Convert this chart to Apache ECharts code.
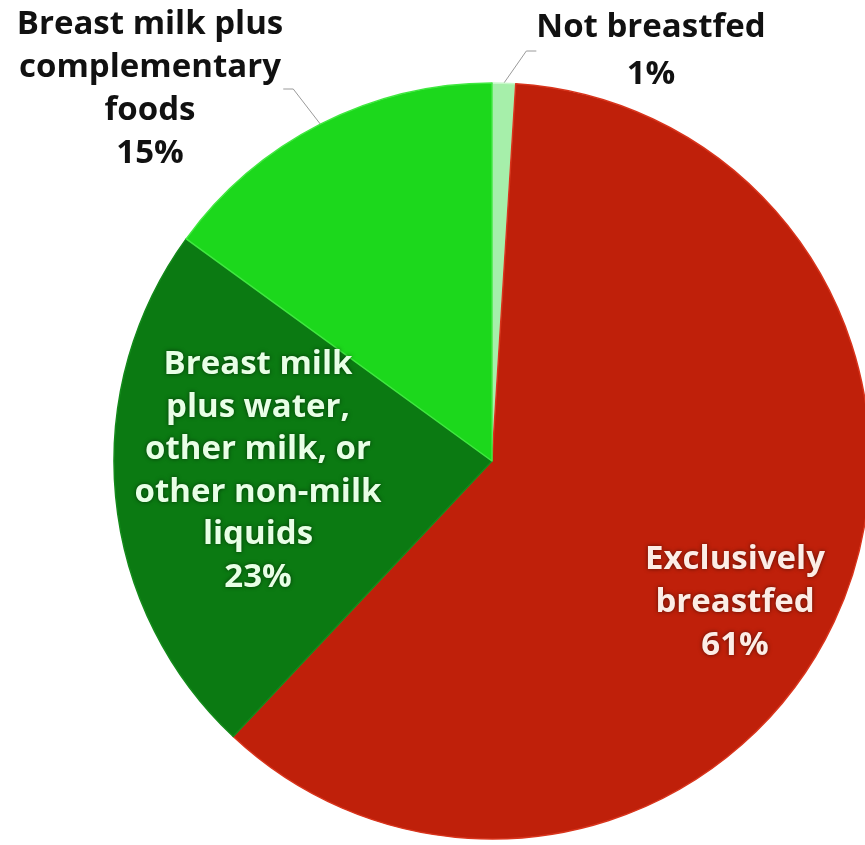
<!DOCTYPE html>
<html>
<head>
<meta charset="utf-8">
<script src="https://cdn.jsdelivr.net/npm/echarts@6/dist/echarts.min.js"></script>
<style>
  html, body { margin: 0; padding: 0; background: #ffffff; }
  #chart { width: 865px; height: 845px; }
</style>
</head>
<body>
<div id="chart"></div>
<script>
// ---- data ----
const categories = [
  'Not breastfed',
  'Exclusively breastfed',
  'Breast milk plus water, other milk, or other non-milk liquids',
  'Breast milk plus complementary foods'
];
const values = [1, 61, 23, 15];
const labelLines = [
  ['Not breastfed'],
  ['Exclusively', 'breastfed'],
  ['Breast milk', 'plus water,', 'other milk, or', 'other non-milk', 'liquids'],
  ['Breast milk plus', 'complementary', 'foods']
];

// ---- styling / layout (not data) ----
const sliceColors = ['#A6EFAA', '#BF200A', '#0B7A12', '#1CD81C'];
const sliceBorders = ['#C8F8CA', '#D8341C', '#138A1A', '#40E840'];
const labelInside = [false, true, true, false];
const labelCenters = [[651, 51], [735, 603], [258, 471], [150, 89]];
const labelLineHeights = [47, 43, 42.6, 43];
const insideTextColors = [null, '#FCEDE6', '#E8FFE6', null];

const chart = echarts.init(document.getElementById('chart'), null, { renderer: 'canvas' });

const seriesData = categories.map((name, i) => {
  const inside = labelInside[i];
  return {
    name: name,
    value: values[i],
    itemStyle: {
      color: sliceColors[i],
      borderColor: sliceBorders[i],
      borderWidth: 1.5
    },
    label: {
      show: true,
      position: inside ? 'inside' : 'outside',
      color: inside ? insideTextColors[i] : '#111111',
      fontFamily: 'Open Sans',
      fontWeight: 'bold',
      fontSize: 33,
      lineHeight: labelLineHeights[i],
      align: 'center',
      textShadowColor: inside ? 'rgba(0,0,0,0.55)' : 'rgba(255,255,255,0)',
      textShadowBlur: inside ? 4 : 0
    },
    labelLine: {
      show: !inside,
      length: 20,
      length2: 10,
      lineStyle: { color: '#9a9a9a', width: 1 }
    }
  };
});

chart.setOption({
  animation: false,
  backgroundColor: '#ffffff',
  series: [{
    type: 'pie',
    center: [492, 461],
    radius: 378,
    startAngle: 90,
    clockwise: true,
    avoidLabelOverlap: false,
    data: seriesData,
    label: {
      formatter: function (p) {
        return labelLines[p.dataIndex].join('\n') + '\n' + p.value + '%';
      }
    },
    labelLayout: function (params) {
      const c = labelCenters[params.dataIndex];
      return { x: c[0], y: c[1], align: 'center', verticalAlign: 'middle' };
    },
    emphasis: { disabled: true }
  }]
});
</script>
</body>
</html>
